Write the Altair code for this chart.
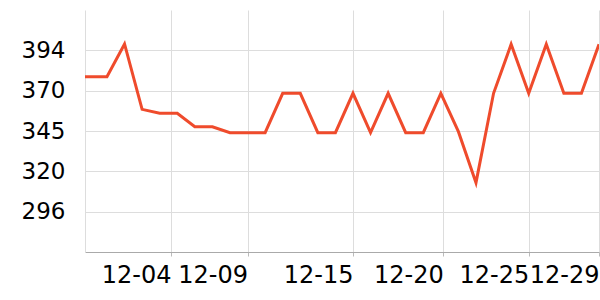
import altair as alt
import pandas as pd

# Data
dates = ["2023-11-29T18:00:00Z"] + [f"2023-12-{d:02d}T00:00:00Z" for d in range(1, 30)]
values = [378.1, 378.1, 398.1, 358.2, 355.8, 355.8, 347.6, 347.6, 344.0, 344.0,
          344.0, 368.0, 368.0, 344.0, 344.0, 368.0, 344.0, 368.0, 344.0, 344.0,
          368.0, 344.6, 313.5, 368.0, 397.9, 368.0, 397.9, 368.0, 368.0, 397.9]

y_ticks = [295.8, 320.4, 345.0, 369.6, 394.2]
y_domain = [271.2, 418.8]
x_ticks = [
    alt.DateTime(year=2023, month=12, date=4, hours=15, minutes=27, utc=True),
    alt.DateTime(year=2023, month=12, date=9, utc=True),
    alt.DateTime(year=2023, month=12, date=15, utc=True),
    alt.DateTime(year=2023, month=12, date=20, hours=3, minutes=17, utc=True),
    alt.DateTime(year=2023, month=12, date=25, utc=True),
    alt.DateTime(year=2023, month=12, date=29, utc=True),
]

df = pd.DataFrame({"date": dates, "value": values})

FONT = "DejaVu Sans"

chart = alt.Chart(df).mark_line(
    color="#ef4b2c", strokeWidth=3, clip=True, strokeJoin="miter"
).encode(
    x=alt.X(
        "date:T",
        scale=alt.Scale(type="utc", nice=False),
        axis=alt.Axis(
            values=x_ticks,
            labelExpr="utcFormat(datum.value, '%m-%d')",
            title=None,
            labelAlign="right",
            labelFlush=False,
            labelOverlap=False,
            labelBound=False,
            labelFont=FONT,
            labelFontSize=24,
            labelColor="#000",
            labelPadding=7,
            tickSize=4,
            tickColor="#bbb",
            domainColor="#aaa",
            grid=True,
            gridColor="#ddd",
        ),
    ),
    y=alt.Y(
        "value:Q",
        scale=alt.Scale(domain=y_domain, nice=False, zero=False),
        axis=alt.Axis(
            values=y_ticks,
            format=".0f",
            title=None,
            ticks=False,
            labelPadding=20,
            labelFont=FONT,
            labelFontSize=23,
            labelColor="#000",
            domainColor="#ddd",
            grid=True,
            gridColor="#ddd",
        ),
    ),
).properties(
    width=514,
    height=242,
    autosize=alt.AutoSizeParams(type="none"),
    padding={"left": 85, "top": 10, "right": 1, "bottom": 48},
).configure_view(strokeWidth=0)

chart.save("out.html", embed_options={"renderer": "svg", "actions": False})
